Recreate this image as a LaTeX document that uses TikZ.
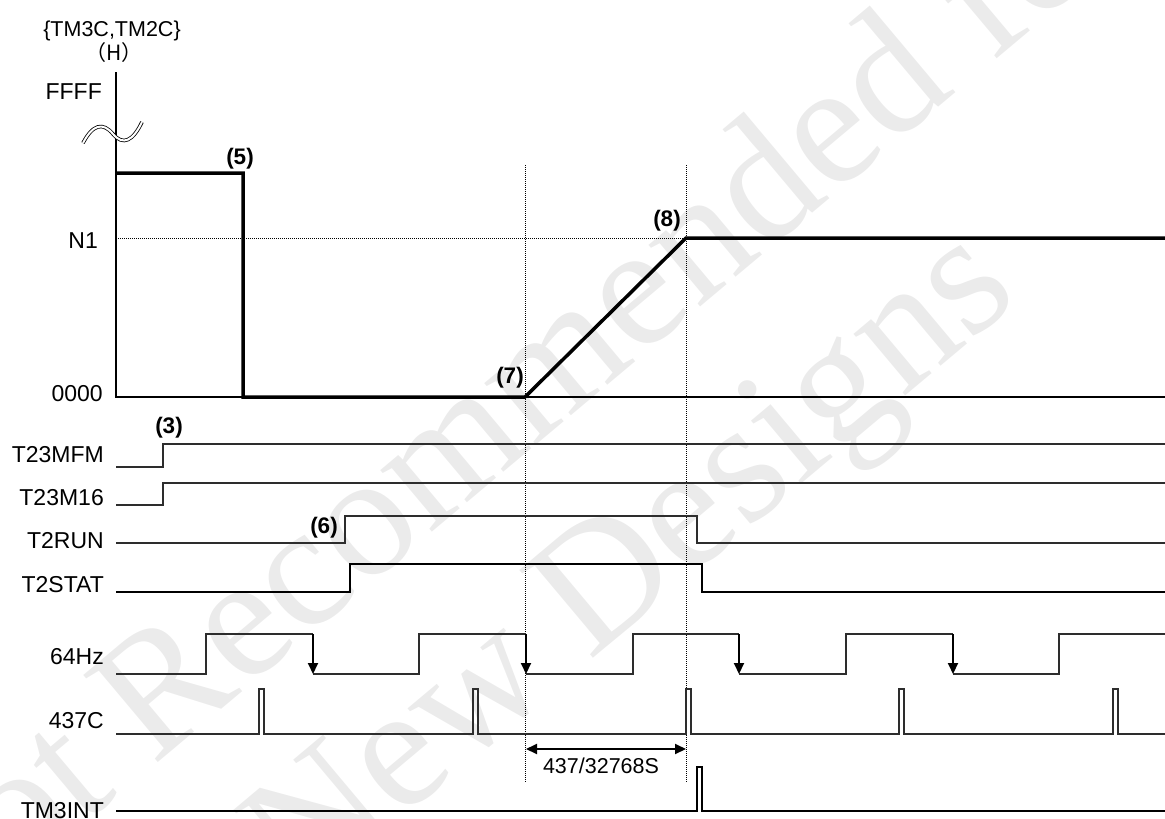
\documentclass[tikz,border=0pt]{standalone}
\usepackage{fontspec}
\setmainfont{Liberation Sans}
\newfontfamily\wmfont{Liberation Serif}
\newfontfamily\cjk{Noto Sans CJK JP}
\usetikzlibrary{arrows.meta}
\definecolor{wm}{RGB}{235,235,235}
\definecolor{sig}{RGB}{45,45,45}
\begin{document}
\begin{tikzpicture}[x=1pt,y=-1pt,
  lbl/.style={font=\fontsize{23}{27}\selectfont, inner sep=0pt, anchor=base east},
  num/.style={font=\fontsize{22.5}{26}\selectfont\bfseries, inner sep=0pt, anchor=base},
  wmtext/.style={font=\fontsize{175}{200}\selectfont\wmfont, text=wm, inner sep=0pt, anchor=base west, rotate=40},
  sigline/.style={line width=1.5pt, draw=sig},
  boldsig/.style={line width=2.2pt, draw=black},
  wave/.style={line width=3.5pt, draw=black, line join=miter},
  axisline/.style={line width=1.6pt, draw=black},
  dotline/.style={line width=1pt, dash pattern=on 1pt off 1pt},
  fallarrow/.style={line width=2pt, -{Triangle[width=10pt,length=11pt]}},
  dimarrow/.style={line width=2pt, {Triangle[width=10pt,length=11pt]}-{Triangle[width=10pt,length=11pt]}}]
\useasboundingbox (0,0) rectangle (1165,819);

% watermark
\node[wmtext] (wm1) at (-81,963) {Not Recommended for};
\node[wmtext] (wm2) at (303,902) {New Designs};

% axis
\draw[axisline] (116,72) -- (116,397) -- (1165,397);
\draw[line width=0.8pt, double=white, double distance=2pt]
  (83,143) .. controls (93,124) and (103,122) .. (113,134)
  .. controls (123,146) and (133,141) .. (142,122);

% axis labels
\node[font=\fontsize{21.5}{26}\selectfont, inner sep=0pt, anchor=base] (title) at (112,36) {\{TM3C,TM2C\}};
\node[font=\fontsize{21}{26}\selectfont, inner sep=0pt, anchor=base] (unit) at (114,60) {\cjk （H）};
\node[lbl] (ffff) at (102,99) {FFFF};
\node[lbl] (n1) at (98,248) {N1};
\node[lbl] (zero) at (103,401) {0000};

% guides
\draw[dotline] (116,238) -- (686,238);
\draw[dotline] (525,165) -- (525,782);
\draw[dotline] (686,165) -- (686,782);

% counter waveform
\draw[wave] (116,173) -- (243,173) -- (243,397) -- (525,397) -- (686,238) -- (1165,238);

% point labels
\node[num] (p5) at (240,164) {(5)};
\node[num] (p8) at (667,226) {(8)};
\node[num] (p7) at (510,383) {(7)};
\node[num] (p3) at (169,433) {(3)};
\node[num] (p6) at (324,533) {(6)};

% signal labels
\node[lbl] (s1) at (104,462) {T23MFM};
\node[lbl] (s2) at (104,505) {T23M16};
\node[lbl] (s3) at (104,548) {T2RUN};
\node[lbl] (s4) at (104,592) {T2STAT};
\node[lbl] (s5) at (104,664) {64Hz};
\node[lbl] (s6) at (104,728) {437C};
\node[lbl] (s7) at (104,818) {TM3INT};

% signals
\draw[sigline] (116,467) -- (163,467) -- (163,444) -- (1165,444);
\draw[sigline] (116,505) -- (163,505) -- (163,483) -- (1165,483);
\draw[sigline] (116,543) -- (345,543) -- (345,516) -- (697,516) -- (697,543) -- (1165,543);
\draw[boldsig] (116,592) -- (350,592) -- (350,564) -- (702,564) -- (702,592) -- (1165,592);

% 64Hz
\draw[sigline] (116,674) -- (206,674) -- (206,634) -- (313,634);
\draw[sigline] (313,674) -- (419,674) -- (419,634) -- (526,634);
\draw[sigline] (526,674) -- (633,674) -- (633,634) -- (739,634);
\draw[sigline] (739,674) -- (846,674) -- (846,634) -- (953,634);
\draw[sigline] (953,674) -- (1059,674) -- (1059,634) -- (1165,634);
\draw[fallarrow] (313,634) -- (313,674);
\draw[fallarrow] (526,634) -- (526,674);
\draw[fallarrow] (739,634) -- (739,674);
\draw[fallarrow] (953,634) -- (953,674);

% 437C
\draw[sigline] (116,734) -- (259,734) -- (259,689) -- (264,689) -- (264,734)
  -- (473,734) -- (473,689) -- (478,689) -- (478,734)
  -- (686,734) -- (686,689) -- (691,689) -- (691,734)
  -- (899,734) -- (899,689) -- (904,689) -- (904,734)
  -- (1113,734) -- (1113,689) -- (1118,689) -- (1118,734) -- (1165,734);

% interval
\coordinate (d1) at (526,749);
\coordinate (d2) at (686,749);
\draw[dimarrow] (d1) -- (d2);
\node[font=\fontsize{21.5}{26}\selectfont, inner sep=0pt, anchor=base] (dt) at (601,773) {437/32768S};

% TM3INT
\draw[boldsig] (116,811) -- (697,811) -- (697,767) -- (702,767) -- (702,811) -- (1165,811);
\end{tikzpicture}
\end{document}
